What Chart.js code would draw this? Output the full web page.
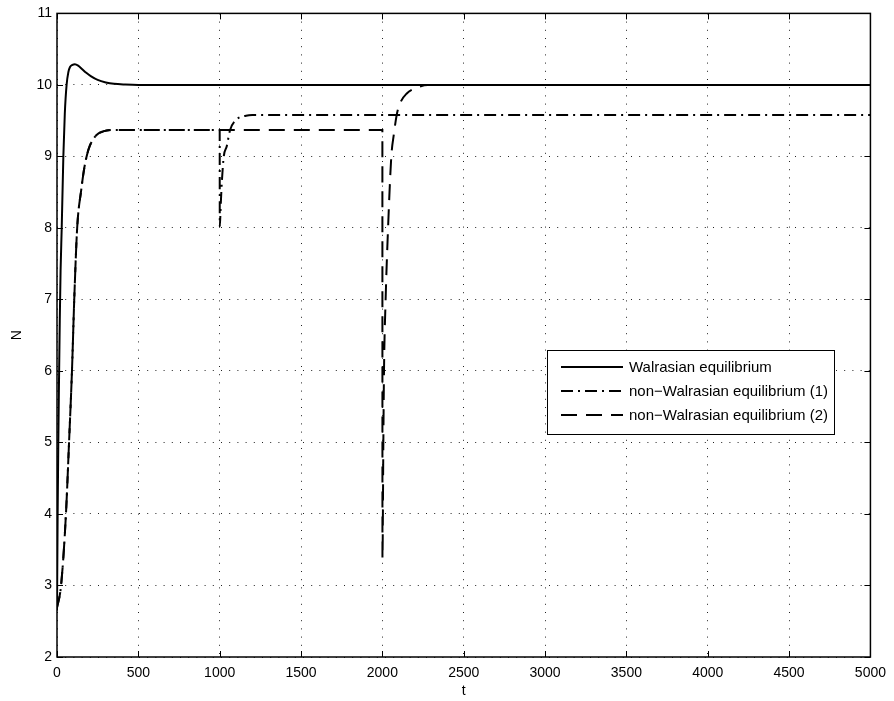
<!DOCTYPE html>
<html>
<head>
<meta charset="utf-8">
<script src="https://cdn.jsdelivr.net/npm/chart.js@4.4.0/dist/chart.umd.min.js"></script>
<style>
html,body{margin:0;padding:0;background:#fff;}
#wrap{position:relative;width:894px;height:701px;}
</style>
</head>
<body>
<div id="wrap"><canvas id="c" width="894" height="701"></canvas></div>
<script>
// ---- tick labels ----
const xTicks = [0, 500, 1000, 1500, 2000, 2500, 3000, 3500, 4000, 4500, 5000];
const yTicks = [2, 3, 4, 5, 6, 7, 8, 9, 10, 11];

// ---- series labels ----
const seriesLabels = ['Walrasian equilibrium', 'non\u2212Walrasian equilibrium (1)', 'non\u2212Walrasian equilibrium (2)'];

// ---- Walrasian equilibrium (solid) ----
const tWal = [0, 4, 8, 12, 17, 22, 29, 39, 48, 59, 70, 80, 95, 110, 130, 155, 180, 210, 250, 300, 350, 420, 500, 5000];
const nWal = [2.65, 4, 5, 5.8, 6.7, 7.4, 8, 9, 9.6, 10, 10.18, 10.25, 10.28, 10.29, 10.27, 10.22, 10.17, 10.12, 10.07, 10.035, 10.015, 10.005, 10, 10];

// ---- non-Walrasian equilibrium (1) (dash-dot) ----
const t1 = [0, 25, 55, 74, 92, 106, 124, 150, 165, 182, 202, 243, 284, 340, 1000, 1000.5, 1007, 1013, 1025, 1043, 1064, 1100, 1162, 1200, 5000];
const n1 = [2.69, 3, 4, 5, 6, 7, 8, 8.55, 8.8, 9, 9.15, 9.3, 9.35, 9.37, 9.37, 8.02, 8.35, 8.63, 9.0, 9.14, 9.37, 9.51, 9.57, 9.58, 9.58];

// ---- non-Walrasian equilibrium (2) (dashed) ----
const t2 = [0, 25, 55, 74, 92, 106, 124, 150, 165, 182, 202, 243, 284, 340, 2000, 2000.5, 2006, 2010, 2020, 2035, 2055, 2070, 2088, 2110, 2150, 2200, 2280, 5000];
const n2 = [2.69, 3, 4, 5, 6, 7, 8, 8.55, 8.8, 9, 9.15, 9.3, 9.35, 9.37, 9.37, 3.38, 5, 6, 7, 8, 9, 9.3, 9.58, 9.75, 9.88, 9.95, 10, 10];

const toPts = (t, n) => t.map((v, i) => ({x: v, y: n[i]}));

const FONT = "'Liberation Sans', Arial, Helvetica, sans-serif";
const dashDot = [12, 5, 2, 5];
const dashed = [16, 9];

const datasets = [
  {label: seriesLabels[0], data: toPts(tWal, nWal), borderColor: '#000', borderWidth: 2, borderDash: []},
  {label: seriesLabels[1], data: toPts(t1, n1), borderColor: '#000', borderWidth: 2, borderDash: dashDot},
  {label: seriesLabels[2], data: toPts(t2, n2), borderColor: '#000', borderWidth: 2, borderDash: dashed}
].map(d => Object.assign(d, {pointRadius: 0, fill: false, cubicInterpolationMode: 'monotone'}));

const framePlugin = {
  id: 'frame',
  afterDatasetsDraw(chart) {
    const {ctx, chartArea: a, scales: {x, y}} = chart;
    ctx.save();
    ctx.strokeStyle = '#000';
    ctx.lineWidth = 1;
    const L = 6;
    ctx.beginPath();
    xTicks.forEach(v => {
      const px = Math.round(x.getPixelForValue(v)) + 0.5;
      ctx.moveTo(px, a.bottom); ctx.lineTo(px, a.bottom - L);
      ctx.moveTo(px, a.top); ctx.lineTo(px, a.top + L);
    });
    yTicks.forEach(v => {
      const py = Math.round(y.getPixelForValue(v)) + 0.5;
      ctx.moveTo(a.left, py); ctx.lineTo(a.left + L, py);
      ctx.moveTo(a.right, py); ctx.lineTo(a.right - L, py);
    });
    ctx.stroke();
    ctx.lineWidth = 1.5;
    ctx.strokeRect(a.left, a.top, a.right - a.left, a.bottom - a.top);

    // legend box
    const bx = 547.5, by = 350.5, bw = 287, bh = 84;
    ctx.fillStyle = '#fff';
    ctx.fillRect(bx, by, bw, bh);
    ctx.lineWidth = 1;
    ctx.strokeRect(bx, by, bw, bh);
    const rows = [367, 391, 415];
    chart.data.datasets.forEach((d, i) => {
      ctx.beginPath();
      ctx.setLineDash(d.borderDash || []);
      ctx.lineWidth = d.borderWidth;
      ctx.moveTo(561, rows[i]); ctx.lineTo(623, rows[i]);
      ctx.stroke();
      ctx.setLineDash([]);
      ctx.fillStyle = '#000';
      ctx.font = '15px ' + FONT;
      ctx.textBaseline = 'middle';
      ctx.textAlign = 'left';
      ctx.fillText(d.label, 629, rows[i] + 1);
    });
    ctx.restore();
  }
};

new Chart(document.getElementById('c'), {
  type: 'line',
  data: {datasets},
  options: {
    responsive: false,
    animation: false,
    devicePixelRatio: 1,
    layout: {padding: {left: 0, right: 21, top: 13, bottom: 0}},
    plugins: {legend: {display: false}, tooltip: {enabled: false}},
    scales: {
      x: {
        type: 'linear', min: 0, max: 5000,
        afterBuildTicks: s => { s.ticks = xTicks.map(v => ({value: v})); },
        afterFit: s => { s.height = 44; },
        ticks: {color: '#000', font: {family: FONT, size: 14}, padding: 8, maxRotation: 0, autoSkip: false, callback: v => String(v)},
        grid: {color: '#222', lineWidth: 1, drawTicks: false},
        border: {display: false, dash: [1, 7.2]},
        title: {display: true, text: 't', color: '#000', font: {family: FONT, size: 14}, padding: {top: 0, bottom: 1}}
      },
      y: {
        type: 'linear', min: 2, max: 11,
        afterBuildTicks: s => { s.ticks = yTicks.map(v => ({value: v})); },
        afterFit: s => { s.width = 57; },
        ticks: {color: '#000', font: {family: FONT, size: 14}, padding: 5, autoSkip: false, callback: v => String(v)},
        grid: {color: '#222', lineWidth: 1, drawTicks: false},
        border: {display: false, dash: [1, 7.2]},
        title: {display: true, text: 'N', color: '#000', font: {family: FONT, size: 14}, padding: {top: 9, bottom: 0}}
      }
    }
  },
  plugins: [framePlugin]
});
</script>
</body>
</html>
